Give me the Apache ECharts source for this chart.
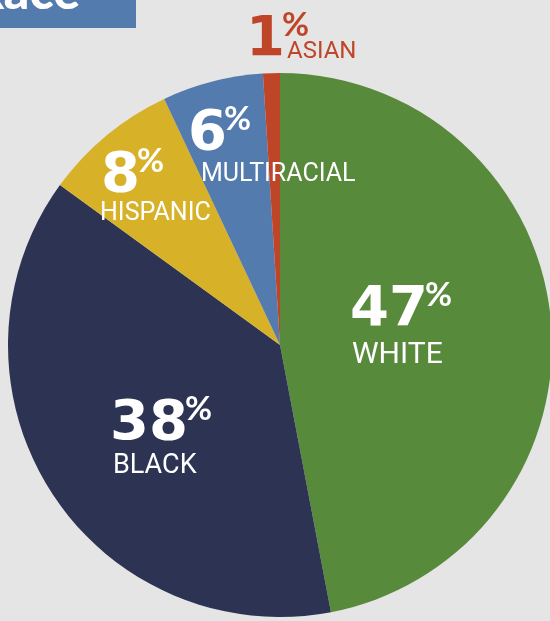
<!DOCTYPE html>
<html><head><meta charset="utf-8">
<script src="https://cdn.jsdelivr.net/npm/echarts@6/dist/echarts.min.js"></script>
<style>html,body{margin:0;padding:0;background:#e5e5e5;}#c{width:550px;height:621px;}</style>
</head><body><div id="c"></div>
<script>
const categories = ['WHITE', 'BLACK', 'HISPANIC', 'MULTIRACIAL', 'ASIAN'];
const values = [47, 38, 8, 6, 1];
const colors = ['#588a3b', '#2d3353', '#d7b127', '#537bae', '#bf4529'];
const titleText = 'Race';

// layout only: label anchor points (top-left)
const numPos = [[350, 286], [110, 400], [101, 152], [188, 110], [246, 16]];
const namePos = [[352, 340], [113, 453], [100, 201], [201, 162], [287, 40]];
const nameSize = [30, 27, 25, 25, 24];

const chart = echarts.init(document.getElementById('c'), null, {renderer: 'canvas'});

const numData = categories.map((c, i) => ({
  name: c,
  value: values[i],
  itemStyle: {color: colors[i]},
  label: {color: i === 4 ? colors[4] : '#ffffff'}
}));

const nameData = categories.map((c, i) => ({
  name: c,
  value: values[i],
  label: {
    color: i === 4 ? colors[4] : '#ffffff',
    fontSize: nameSize[i],
    lineHeight: nameSize[i]
  }
}));

chart.setOption({
  backgroundColor: '#e5e5e5',
  animation: false,
  graphic: [
    {type: 'rect', shape: {x: 0, y: 0, width: 136, height: 28}, style: {fill: '#537bae'}, silent: true},
    {type: 'text', x: 80, y: 18, style: {text: titleText, fill: '#ffffff', font: '900 50px Lato', align: 'right', verticalAlign: 'bottom'}, silent: true}
  ],
  series: [{
    type: 'pie',
    center: [280, 345],
    radius: 272,
    startAngle: 90,
    clockwise: true,
    silent: true,
    label: {
      show: true,
      position: 'inside',
      formatter: p => '{num|' + p.value + '}{pct|%}',
      rich: {
        num: {fontFamily: 'DejaVu Sans', fontWeight: 'bold', fontSize: 56, lineHeight: 48},
        pct: {fontFamily: 'Lato', fontWeight: 700, fontSize: 33, lineHeight: 17, verticalAlign: 'top', padding: [-7, 0, 0, -3]}
      }
    },
    labelLine: {show: false},
    labelLayout: p => ({x: numPos[p.dataIndex][0], y: numPos[p.dataIndex][1], align: 'left', verticalAlign: 'top'}),
    emphasis: {disabled: true},
    data: numData
  }, {
    type: 'pie',
    center: [280, 345],
    radius: 272,
    startAngle: 90,
    clockwise: true,
    silent: true,
    z: 3,
    itemStyle: {color: 'rgba(0,0,0,0)'},
    label: {
      show: true,
      position: 'inside',
      formatter: '{b}',
      fontFamily: 'Roboto',
      fontWeight: 400
    },
    labelLine: {show: false},
    labelLayout: p => ({x: namePos[p.dataIndex][0], y: namePos[p.dataIndex][1], align: 'left', verticalAlign: 'top'}),
    emphasis: {disabled: true},
    data: nameData
  }]
});
</script>
</body></html>
